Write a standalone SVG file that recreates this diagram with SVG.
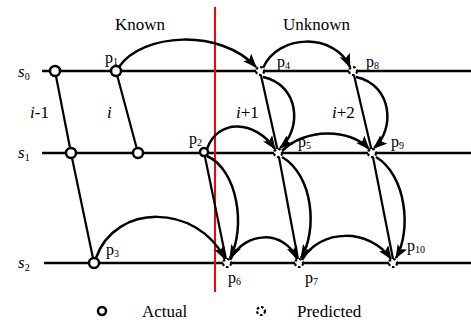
<svg xmlns="http://www.w3.org/2000/svg" width="471" height="320" viewBox="0 0 471 320" font-family="'Liberation Serif', 'DejaVu Serif', serif">
<style>
.t{font-size:17px}
.p{font-size:16px}
.sub{font-size:10px}
.s{font-size:17px;font-style:italic}
.ax{stroke:#000;stroke-width:2.5;fill:none}
.ln{stroke:#000;stroke-width:2.2;fill:none}
.cv{stroke:#000;stroke-width:2.5;fill:none;marker-end:url(#ah)}
.act{fill:#fff;stroke:#000;stroke-width:2.5}
.pred{fill:#fff;stroke:#000;stroke-width:2.2;stroke-dasharray:2.6 2}
</style>
<defs>
<marker id="ah" markerUnits="userSpaceOnUse" markerWidth="15" markerHeight="12" refX="13" refY="5.5" orient="auto">
<path d="M0,0 L14,5.5 L0,11 L3,5.5 Z" fill="#000"/>
</marker>
</defs>
<g id="axes">
<line class="ax" x1="42" y1="71" x2="471" y2="71"/>
<line class="ax" x1="42" y1="153" x2="471" y2="153"/>
<line class="ax" x1="44" y1="263" x2="471" y2="263"/>
<text class="s" x="18" y="77">s<tspan class="sub" dy="3" font-style="normal">0</tspan></text>
<text class="s" x="18" y="158">s<tspan class="sub" dy="3" font-style="normal">1</tspan></text>
<text class="s" x="18" y="268">s<tspan class="sub" dy="3" font-style="normal">2</tspan></text>
</g>
<g id="headers">
<text class="t" x="115" y="30">Known</text>
<text class="t" x="283" y="30">Unknown</text>
<text class="t" x="30" y="118"><tspan font-style="italic">i</tspan>-1</text>
<text class="t" x="107" y="118" font-style="italic">i</text>
<text class="t" x="236" y="118"><tspan font-style="italic">i</tspan>+1</text>
<text class="t" x="332" y="118"><tspan font-style="italic">i</tspan>+2</text>
</g>
<g id="divider">
<line x1="215" y1="7" x2="215" y2="292" stroke="#f00" stroke-width="2"/>
</g>
<g id="connectors">
<line class="ln" x1="55" y1="71" x2="71" y2="153"/>
<line class="ln" x1="71" y1="153" x2="94" y2="263"/>
<line class="ln" x1="116" y1="71" x2="138" y2="153"/>
<line class="ln" x1="204" y1="152" x2="226" y2="259"/>
<line class="ln" x1="260" y1="71" x2="278" y2="152"/>
<line class="ln" x1="353" y1="71" x2="372" y2="152"/>
<line class="ln" x1="278" y1="152" x2="298" y2="259"/>
<line class="ln" x1="372" y1="152" x2="393" y2="259"/>
<path class="cv" d="M119,67 C142,33 220,28 256,67"/>
<path class="cv" d="M263,68 C278,33 335,33 350,67"/>
<path class="cv" d="M263,77 C300,85 302,130 280,148"/>
<path class="cv" d="M356,77 C393,85 395,130 374,148"/>
<path class="cv" d="M207,149 C218,118 255,120 275,149"/>
<path class="cv" d="M282,151 C305,128 350,128 369,149"/>
<path class="cv" d="M207,156 C238,170 246,228 230,258"/>
<path class="cv" d="M282,157 C313,175 318,230 301,258"/>
<path class="cv" d="M376,157 C406,175 412,230 396,258"/>
<path class="cv" d="M96,258 C115,203 197,203 225,259"/>
<path class="cv" d="M230,260 C245,230 285,230 297,259"/>
<path class="cv" d="M302,260 C320,228 370,228 391,259"/>
</g>
<g id="n0"><circle class="act" cx="55" cy="71" r="5"/></g>
<g id="p1"><circle class="act" cx="116" cy="71" r="5"/><text class="p" x="105" y="63">p<tspan class="sub" dy="2">1</tspan></text></g>
<g id="n1"><circle class="act" cx="71" cy="153" r="5"/></g>
<g id="n2"><circle class="act" cx="138" cy="153" r="5"/></g>
<g id="p2"><circle class="act" cx="204" cy="152" r="4"/><text class="p" x="189" y="144">p<tspan class="sub" dy="2">2</tspan></text></g>
<g id="p3"><circle class="act" cx="94" cy="263" r="5"/><text class="p" x="106" y="255">p<tspan class="sub" dy="2">3</tspan></text></g>
<g id="p4"><circle class="pred" cx="260" cy="71" r="4"/><text class="p" x="277" y="67">p<tspan class="sub" dy="2">4</tspan></text></g>
<g id="p8"><circle class="pred" cx="353" cy="71" r="4"/><text class="p" x="366" y="67">p<tspan class="sub" dy="2">8</tspan></text></g>
<g id="p5"><circle class="pred" cx="278" cy="153" r="4"/><text class="p" x="298" y="147">p<tspan class="sub" dy="2">5</tspan></text></g>
<g id="p9"><circle class="pred" cx="372" cy="153" r="4"/><text class="p" x="391" y="147">p<tspan class="sub" dy="2">9</tspan></text></g>
<g id="p6"><circle class="pred" cx="227" cy="263" r="4"/><text class="p" x="228" y="283">p<tspan class="sub" dy="2">6</tspan></text></g>
<g id="p7"><circle class="pred" cx="299" cy="263" r="4"/><text class="p" x="305" y="283">p<tspan class="sub" dy="2">7</tspan></text></g>
<g id="p10"><circle class="pred" cx="393" cy="263" r="4"/><text class="p" x="407" y="251">p<tspan class="sub" dy="2">10</tspan></text></g>
<g id="legend">
<circle class="act" cx="102" cy="311" r="4"/>
<text class="t" x="142" y="317">Actual</text>
<circle class="pred" cx="261" cy="311" r="4"/>
<text class="t" x="297" y="317">Predicted</text>
</g>
</svg>
